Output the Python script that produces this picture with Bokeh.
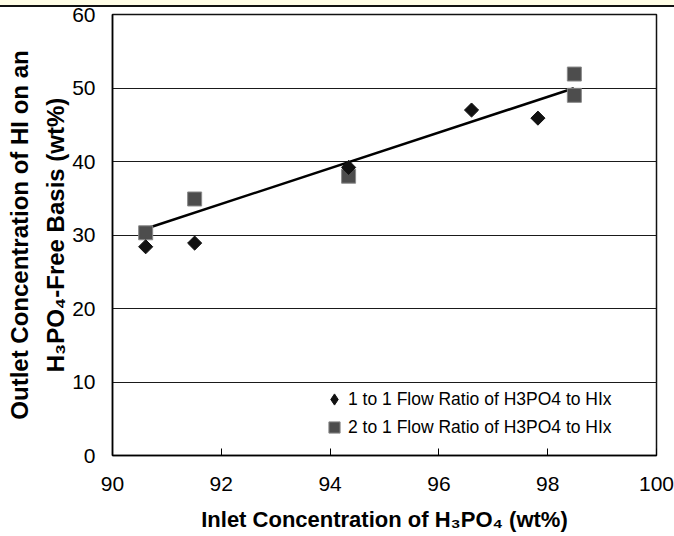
from bokeh.plotting import figure
from bokeh.models import Range1d, Legend, LegendItem, Div, FixedTicker, LinearAxis
from bokeh.layouts import column
from bokeh.embed import file_html
from bokeh.resources import INLINE
import math

# ---- data ----
x_ticks = [90, 92, 94, 96, 98, 100]
y_ticks = [0, 10, 20, 30, 40, 50, 60]
grid_y = [10, 20, 30, 40, 50]

s1_x = [90.61, 91.51, 94.34, 96.60, 97.82]
s1_y = [28.4, 28.9, 39.2, 47.0, 45.9]
s2_x = [90.61, 91.51, 94.34, 98.49, 98.49]
s2_y = [30.3, 34.9, 38.0, 51.9, 49.0]
trend_x = [90.61, 98.48]
trend_y = [30.85, 49.97]

s1_label = "1 to 1 Flow Ratio of H3PO4 to HIx"
s2_label = "2 to 1 Flow Ratio of H3PO4 to HIx"
x_title = "Inlet Concentration of H\u2083PO\u2084 (wt%)"
y_title_1 = "Outlet Concentration of HI on an"
y_title_2 = "H\u2083PO\u2084-Free Basis (wt%)"

FONT = "Liberation Sans"

p = figure(width=674, height=529, x_range=Range1d(90, 100), y_range=Range1d(0, 60),
           output_backend="svg", toolbar_location=None,
           min_border_left=112, min_border_right=18, min_border_top=7, min_border_bottom=81)

p.background_fill_color = "white"
p.border_fill_color = "white"
p.outline_line_color = "#111111"
p.outline_line_width = 1.5

p.xgrid.visible = False
p.ygrid.ticker = FixedTicker(ticks=grid_y)
p.ygrid.grid_line_color = "#1a1a1a"
p.ygrid.grid_line_width = 1

# x axis
p.xaxis.ticker = FixedTicker(ticks=x_ticks)
p.xaxis.axis_line_color = "black"
p.xaxis.axis_line_width = 1.5
p.xaxis.major_tick_in = 7
p.xaxis.major_tick_out = 0
p.xaxis.major_tick_line_color = "black"
p.xaxis.minor_tick_line_color = None
p.xaxis.major_label_text_font = FONT
p.xaxis.major_label_text_font_size = "21px"
p.xaxis.major_label_text_color = "black"
p.xaxis.major_label_standoff = 21
p.xaxis.axis_label = x_title
p.xaxis.axis_label_text_font = FONT
p.xaxis.axis_label_text_font_style = "bold"
p.xaxis.axis_label_text_font_size = "22px"
p.xaxis.axis_label_text_color = "black"
p.xaxis.axis_label_standoff = 13

# y axis (inner title line)
p.yaxis.ticker = FixedTicker(ticks=y_ticks)
p.yaxis.axis_line_color = "black"
p.yaxis.axis_line_width = 1.5
p.yaxis.major_tick_line_color = None
p.yaxis.major_tick_in = 0
p.yaxis.major_tick_out = 0
p.yaxis.minor_tick_line_color = None
p.yaxis.major_label_text_font = FONT
p.yaxis.major_label_text_font_size = "21px"
p.yaxis.major_label_text_color = "black"
p.yaxis.major_label_standoff = 17
p.yaxis.axis_label = y_title_2
p.yaxis.axis_label_text_font = FONT
p.yaxis.axis_label_text_font_style = "bold"
p.yaxis.axis_label_text_font_size = "24px"
p.yaxis.axis_label_text_color = "black"
p.yaxis.axis_label_standoff = 0

# outer axis carrying the first title line
outer = LinearAxis(ticker=FixedTicker(ticks=[]), axis_label=y_title_1)
outer.axis_line_color = None
outer.major_tick_line_color = None
outer.minor_tick_line_color = None
outer.major_tick_in = 0
outer.major_tick_out = 0
outer.major_label_standoff = 0
outer.axis_label_text_font = FONT
outer.axis_label_text_font_style = "bold"
outer.axis_label_text_font_size = "24px"
outer.axis_label_text_color = "black"
outer.axis_label_standoff = 7
p.add_layout(outer, "left")

# trend line
p.line(trend_x, trend_y, line_color="black", line_width=2.5)

# series
r2 = p.scatter(s2_x, s2_y, marker="square", size=14, fill_color="#4d4d4d",
               line_color="#8a8a8a", line_width=1)
r1 = p.scatter(s1_x, s1_y, marker="square", size=10, angle=math.pi / 4,
               fill_color="#111111", line_color="#111111", line_width=1)

# legend-only proxy glyph for the diamond series (legend ignores marker angle)
nan = float("nan")
r1_leg = p.scatter([nan], [nan], marker="diamond", size=14,
                   fill_color="#111111", line_color="#111111", line_width=1)

legend = Legend(items=[LegendItem(label=s1_label, renderers=[r1_leg]),
                       LegendItem(label=s2_label, renderers=[r2])],
                location=(208, 14), orientation="vertical")
legend.border_line_color = None
legend.background_fill_alpha = 0
legend.padding = 0
legend.margin = 0
legend.spacing = 0
legend.glyph_width = 28
legend.glyph_height = 28
legend.label_standoff = 0
legend.label_text_font = FONT
legend.label_text_font_size = "17.5px"
legend.label_text_color = "black"
p.add_layout(legend, "center")

strip = Div(text="", width=674, height=7, margin=0,
            styles={"background": "linear-gradient(to bottom, #FFFDE6 0px, #FFFDE6 5px, #111111 5px, #111111 7px)"})

layout = column(strip, p, spacing=0)
open("out.html", "w").write(file_html(layout, INLINE))
